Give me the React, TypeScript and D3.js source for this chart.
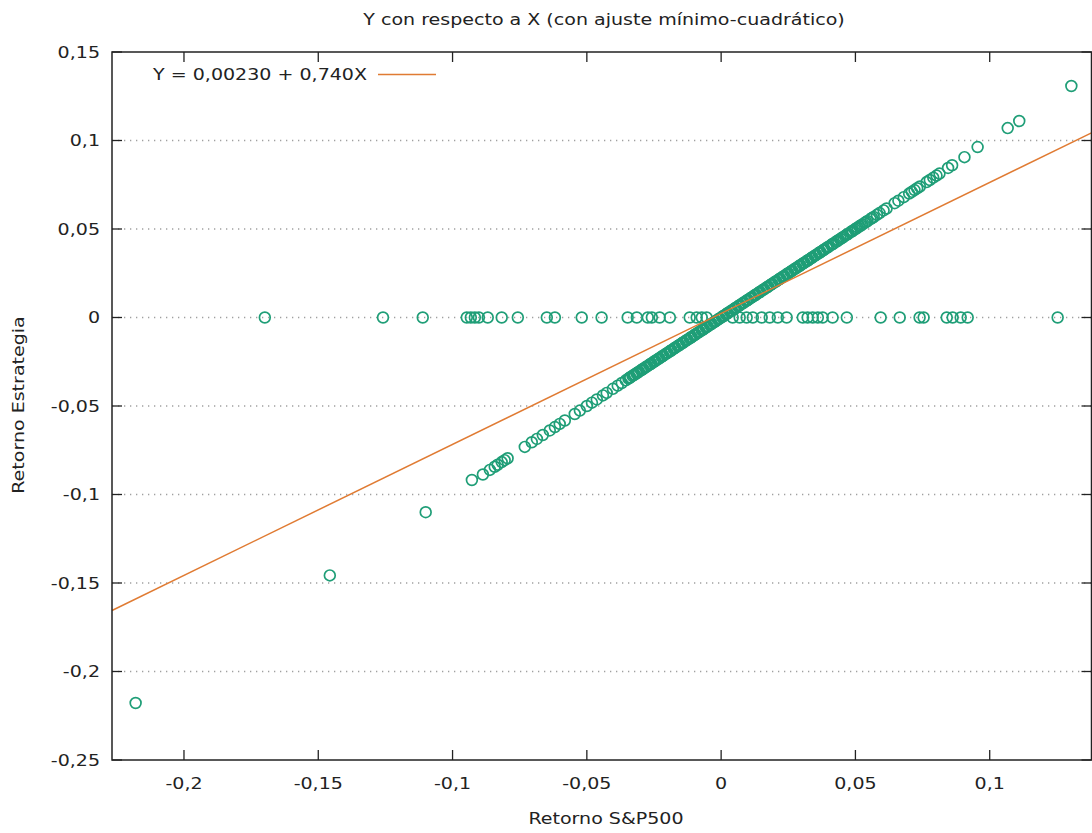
import React from "react";
import * as d3 from "d3";

const title = "Y con respecto a X (con ajuste mínimo-cuadrático)";
const xLabel = "Retorno S&P500";
const yLabel = "Retorno Estrategia";
const legendText = "Y = 0,00230 + 0,740X";
const fitIntercept = 0.0023;
const fitSlope = 0.74;

const xTicks = [-0.2, -0.15, -0.1, -0.05, 0, 0.05, 0.1];
const yTicks = [0.15, 0.1, 0.05, 0, -0.05, -0.1, -0.15, -0.2, -0.25];
const xDomain = [-0.2268, 0.1379];
const yDomain = [-0.25, 0.15];

// Periods in the market: strategy return follows the S&P500 return
const inMarketPoints: [number, number][] = [
  [-0.218, -0.2178], [-0.1457, -0.1457], [-0.110, -0.110],
  [-0.0928, -0.0918], [-0.0887, -0.0887], [-0.0861, -0.0861], [-0.0843, -0.0843], [-0.0832, -0.0832],
  [-0.0817, -0.0817], [-0.0806, -0.0806], [-0.0795, -0.0795], [-0.0731, -0.0731], [-0.0705, -0.0705],
  [-0.0686, -0.0686], [-0.0664, -0.0664], [-0.0638, -0.0638], [-0.0619, -0.0619], [-0.0601, -0.0601],
  [-0.0582, -0.0582], [-0.0545, -0.0545], [-0.0526, -0.0526], [-0.0500, -0.0500], [-0.0481, -0.0481],
  [-0.0463, -0.0463], [-0.0440, -0.0440], [-0.0426, -0.0426], [-0.0403, -0.0403], [-0.0385, -0.0385],
  [-0.0370, -0.0370], [-0.0355, -0.0355], [-0.0345, -0.0345], [-0.0338, -0.0338], [-0.0330, -0.0330],
  [-0.0322, -0.0322], [-0.0315, -0.0315], [-0.0306, -0.0306], [-0.0298, -0.0298], [-0.0290, -0.0290],
  [-0.0283, -0.0283], [-0.0275, -0.0275], [-0.0268, -0.0268], [-0.0260, -0.0260], [-0.0252, -0.0252],
  [-0.0245, -0.0245], [-0.0238, -0.0238], [-0.0230, -0.0230], [-0.0222, -0.0222], [-0.0215, -0.0215],
  [-0.0207, -0.0207], [-0.0200, -0.0200], [-0.0192, -0.0192], [-0.0185, -0.0185], [-0.0177, -0.0177],
  [-0.0170, -0.0170], [-0.0162, -0.0162], [-0.0155, -0.0155], [-0.0147, -0.0147], [-0.0140, -0.0140],
  [-0.0132, -0.0132], [-0.0125, -0.0125], [-0.0117, -0.0117], [-0.0110, -0.0110], [-0.0102, -0.0102],
  [-0.0095, -0.0095], [-0.0087, -0.0087], [-0.0080, -0.0080], [-0.0072, -0.0072], [-0.0065, -0.0065],
  [-0.0057, -0.0057], [-0.0050, -0.0050], [-0.0042, -0.0042], [-0.0035, -0.0035], [-0.0027, -0.0027],
  [-0.0020, -0.0020], [-0.0012, -0.0012], [-0.0005, -0.0005], [0.0003, 0.0003], [0.0010, 0.0010],
  [0.0018, 0.0018], [0.0025, 0.0025], [0.0033, 0.0033], [0.0040, 0.0040], [0.0048, 0.0048],
  [0.0055, 0.0055], [0.0063, 0.0063], [0.0070, 0.0070], [0.0078, 0.0078], [0.0085, 0.0085],
  [0.0093, 0.0093], [0.0100, 0.0100], [0.0108, 0.0108], [0.0115, 0.0115], [0.0123, 0.0123],
  [0.0130, 0.0130], [0.0138, 0.0138], [0.0145, 0.0145], [0.0153, 0.0153], [0.0160, 0.0160],
  [0.0168, 0.0168], [0.0175, 0.0175], [0.0183, 0.0183], [0.0190, 0.0190], [0.0198, 0.0198],
  [0.0205, 0.0205], [0.0213, 0.0213], [0.0220, 0.0220], [0.0228, 0.0228], [0.0235, 0.0235],
  [0.0243, 0.0243], [0.0250, 0.0250], [0.0258, 0.0258], [0.0265, 0.0265], [0.0273, 0.0273],
  [0.0280, 0.0280], [0.0288, 0.0288], [0.0295, 0.0295], [0.0303, 0.0303], [0.0310, 0.0310],
  [0.0318, 0.0318], [0.0325, 0.0325], [0.0333, 0.0333], [0.0340, 0.0340], [0.0348, 0.0348],
  [0.0355, 0.0355], [0.0363, 0.0363], [0.0370, 0.0370], [0.0378, 0.0378], [0.0385, 0.0385],
  [0.0393, 0.0393], [0.0400, 0.0400], [0.0410, 0.0410], [0.0418, 0.0418], [0.0428, 0.0428],
  [0.0436, 0.0436], [0.0445, 0.0445], [0.0455, 0.0455], [0.0465, 0.0465], [0.0472, 0.0472],
  [0.0482, 0.0482], [0.0490, 0.0490], [0.0498, 0.0498], [0.0508, 0.0508], [0.0515, 0.0515],
  [0.0525, 0.0525], [0.0535, 0.0535], [0.0545, 0.0545], [0.0556, 0.0556], [0.0568, 0.0568],
  [0.0580, 0.0580], [0.0590, 0.0590], [0.0605, 0.0605], [0.0616, 0.0616], [0.0646, 0.0646],
  [0.0660, 0.0660], [0.0680, 0.0680], [0.0700, 0.0700], [0.0710, 0.0710], [0.0720, 0.0720],
  [0.0730, 0.0730], [0.0740, 0.0740], [0.0765, 0.0765], [0.0777, 0.0777], [0.0790, 0.0790],
  [0.0802, 0.0802], [0.0813, 0.0813], [0.0845, 0.0845], [0.0860, 0.0860], [0.0906, 0.0906],
  [0.0955, 0.0963], [0.1067, 0.1070], [0.1110, 0.1110], [0.1304, 0.1308],
  // further months packed in the dense central band
  [-0.0341, -0.0341], [-0.0326, -0.0326], [-0.0311, -0.0311], [-0.0294, -0.0294], [-0.0279, -0.0279],
  [-0.0264, -0.0264], [-0.0249, -0.0249], [-0.0234, -0.0234], [-0.0218, -0.0218], [-0.0203, -0.0203],
  [-0.0188, -0.0188], [-0.0173, -0.0173], [-0.0158, -0.0158], [-0.0143, -0.0143], [-0.0128, -0.0128],
  [-0.0113, -0.0113], [-0.0098, -0.0098], [-0.0083, -0.0083], [-0.0068, -0.0068], [-0.0053, -0.0053],
  [-0.0038, -0.0038], [-0.0023, -0.0023], [-0.0008, -0.0008], [0.0007, 0.0007], [0.0022, 0.0022],
  [0.0037, 0.0037], [0.0052, 0.0052], [0.0067, 0.0067], [0.0082, 0.0082], [0.0097, 0.0097],
  [0.0112, 0.0112], [0.0127, 0.0127], [0.0142, 0.0142], [0.0157, 0.0157], [0.0172, 0.0172],
  [0.0187, 0.0187], [0.0202, 0.0202], [0.0217, 0.0217], [0.0232, 0.0232], [0.0247, 0.0247],
  [0.0262, 0.0262], [0.0277, 0.0277], [0.0292, 0.0292], [0.0307, 0.0307], [0.0322, 0.0322],
  [0.0337, 0.0337], [0.0352, 0.0352], [0.0367, 0.0367], [0.0382, 0.0382], [0.0397, 0.0397],
  [0.0414, 0.0414], [0.0432, 0.0432], [0.0450, 0.0450], [0.0468, 0.0468], [0.0486, 0.0486],
  [0.0503, 0.0503], [0.0520, 0.0520], [0.0540, 0.0540], [0.0562, 0.0562],
];

// Periods out of the market: strategy return is zero
const outMarketPoints: [number, number][] = [
  [-0.1699, 0], [-0.1259, 0], [-0.1111, 0], [-0.0947, 0], [-0.0932, 0], [-0.0917, 0],
  [-0.0902, 0], [-0.0869, 0], [-0.0817, 0], [-0.0757, 0], [-0.0649, 0], [-0.0619, 0],
  [-0.0519, 0], [-0.0445, 0], [-0.0348, 0], [-0.0314, 0], [-0.0273, 0], [-0.0258, 0],
  [-0.0229, 0], [-0.0191, 0], [-0.0117, 0], [-0.0091, 0], [-0.0072, 0], [-0.0054, 0],
  [0.0043, 0], [0.0069, 0], [0.0095, 0], [0.0118, 0], [0.0151, 0], [0.0181, 0],
  [0.0211, 0], [0.0244, 0], [0.0304, 0], [0.0322, 0], [0.0341, 0], [0.0360, 0],
  [0.0378, 0], [0.0415, 0], [0.0468, 0], [0.0594, 0], [0.0665, 0], [0.0739, 0],
  [0.0754, 0], [0.0840, 0], [0.0862, 0], [0.0892, 0], [0.0918, 0], [0.1253, 0],
];

const W = 1092;
const H = 833;
const left = 112;
const right = 1091.5;
const top = 52;
const bottom = 760;
const FONT = "'DejaVu Sans', sans-serif";
const GREEN = "#1f9e77";
const ORANGE = "#e07b33";
const TEXT = "#222";
const STRETCH = 1.27;

const fmt = (v: number) => {
  if (Math.abs(v) < 1e-9) return "0";
  return String(+v.toFixed(2)).replace(".", ",");
};

function SText(props: {
  x: number;
  y: number;
  anchor: "start" | "middle" | "end";
  sx?: number;
  size?: number;
  rotate?: number;
  children: React.ReactNode;
}) {
  const { x, y, anchor, sx = STRETCH, size = 15, rotate = 0 } = props;
  return (
    <text
      transform={`translate(${x},${y}) rotate(${rotate}) scale(${sx},1)`}
      textAnchor={anchor}
      fontSize={size}
      fill={TEXT}
    >
      {props.children}
    </text>
  );
}

export default function App() {
  const x = d3.scaleLinear().domain(xDomain).range([left, right]);
  const y = d3.scaleLinear().domain(yDomain).range([bottom, top]);
  const fitLine = d3
    .line<number>()
    .x((d) => x(d))
    .y((d) => y(fitIntercept + fitSlope * d));
  const allPoints = [...outMarketPoints, ...inMarketPoints];
  const tickLen = 10;

  return (
    <svg
      width={W}
      height={H}
      style={{ position: "absolute", left: 0, top: 0, background: "#fff" }}
      fontFamily={FONT}
    >
      <rect x={0} y={0} width={W} height={H} fill="#fff" />
      <SText x={604} y={25} anchor="middle" sx={1.27}>
        {title}
      </SText>
      {/* grid */}
      {yTicks
        .filter((t) => t !== yDomain[0] && t !== yDomain[1])
        .map((t) => (
          <line
            key={"g" + t}
            x1={left}
            x2={right}
            y1={y(t)}
            y2={y(t)}
            stroke="#a0a0a0"
            strokeWidth={1.3}
            strokeDasharray="1.3,4.7"
          />
        ))}
      {/* y ticks */}
      {yTicks.map((t) => (
        <g key={"y" + t}>
          <line x1={left} x2={left + tickLen} y1={y(t)} y2={y(t)} stroke="#222" strokeWidth={1.3} />
          <line x1={right - tickLen} x2={right} y1={y(t)} y2={y(t)} stroke="#222" strokeWidth={1.3} />
          <SText x={100} y={y(t) + 5.5} anchor="end">
            {fmt(t)}
          </SText>
        </g>
      ))}
      {/* x ticks */}
      {xTicks.map((t) => (
        <g key={"x" + t}>
          <line x1={x(t)} x2={x(t)} y1={bottom} y2={bottom - tickLen} stroke="#222" strokeWidth={1.3} />
          <line x1={x(t)} x2={x(t)} y1={top} y2={top + tickLen} stroke="#222" strokeWidth={1.3} />
          <SText x={x(t)} y={789} anchor="middle">
            {fmt(t)}
          </SText>
        </g>
      ))}
      {/* points */}
      {allPoints.map((p, i) => (
        <circle
          key={"p" + i}
          cx={x(p[0])}
          cy={y(p[1])}
          r={5.4}
          fill="none"
          stroke={GREEN}
          strokeWidth={1.7}
        />
      ))}
      {/* fit line */}
      <path d={fitLine(xDomain) || ""} fill="none" stroke={ORANGE} strokeWidth={1.5} />
      {/* border */}
      <rect
        x={left}
        y={top}
        width={right - left}
        height={bottom - top}
        fill="none"
        stroke="#222"
        strokeWidth={1.5}
      />
      {/* legend */}
      <SText x={367} y={80} anchor="end">
        {legendText}
      </SText>
      <line x1={378} x2={436} y1={74.5} y2={74.5} stroke={ORANGE} strokeWidth={1.5} />
      {/* axis labels */}
      <SText x={606} y={824} anchor="middle">
        {xLabel}
      </SText>
      <SText x={24} y={405} anchor="middle" rotate={-90}>
        {yLabel}
      </SText>
    </svg>
  );
}
